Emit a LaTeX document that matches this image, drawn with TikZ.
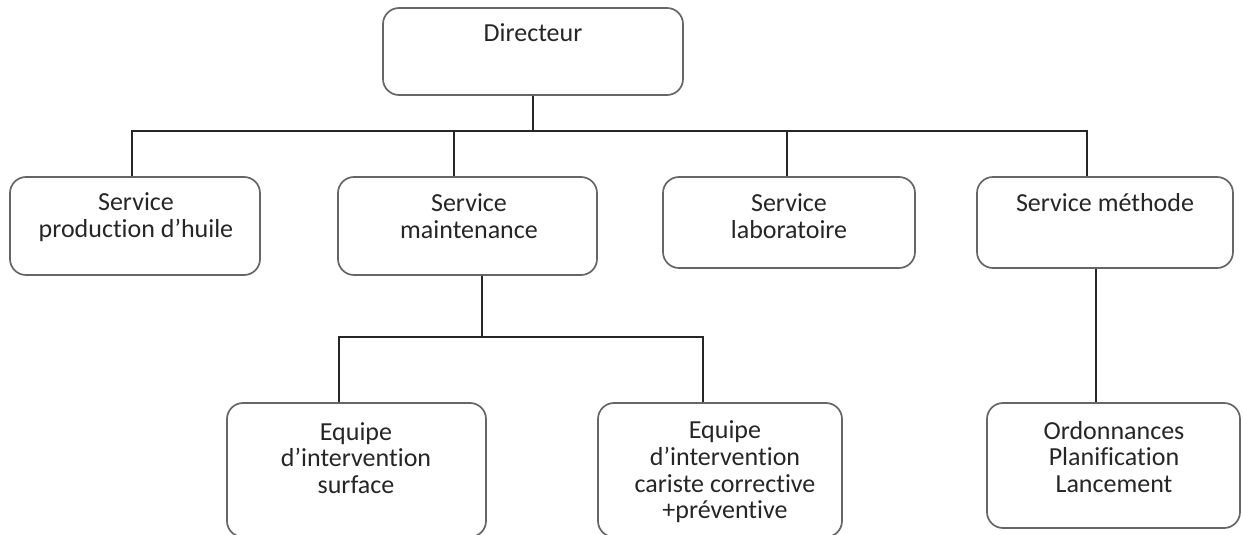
\documentclass[tikz,border=0pt]{standalone}
\usepackage{fontspec}
\setmainfont{Carlito}[Ligatures=NoCommon]
\begin{document}
\begin{tikzpicture}[x=0.5pt,y=-0.5pt,
  box/.style={draw=black!60, line width=0.85pt, rounded corners=8pt, fill=white, inner sep=0pt},
  txt/.style={align=center, font=\fontsize{13}{13.3}\selectfont, text=black!85, inner sep=0pt},
  conn/.style={line width=0.9pt, draw=black!85}]
\useasboundingbox (0,0) rectangle (1243,535);
% boxes
\node[box, minimum width=150pt, minimum height=43.5pt] (dir) at (533,51.5) {};
\node[box, minimum width=125pt, minimum height=49pt] (prod) at (135,226) {};
\node[box, minimum width=129.5pt, minimum height=49pt] (maint) at (467.5,226) {};
\node[box, minimum width=126pt, minimum height=45.5pt] (lab) at (789,222.5) {};
\node[box, minimum width=128pt, minimum height=45.5pt] (meth) at (1105,222.5) {};
\node[box, minimum width=129.5pt, minimum height=67pt] (surf) at (356.5,470) {};
\node[box, minimum width=122pt, minimum height=67pt] (car) at (720,470) {};
\node[box, minimum width=126.5pt, minimum height=62.5pt] (ord) at (1113.5,465.5) {};
% texts
\node[txt] (dirT) at (533,33) {Directeur};
\node[txt] (prodT) at (136,217) {Service\\production d’huile};
\node[txt] (maintT) at (469,216) {Service\\maintenance};
\node[txt] (labT) at (789,216) {Service\\laboratoire};
\node[txt] (methT) at (1105,203) {Service méthode};
\node[txt] (surfT) at (356,458) {Equipe\\d’intervention\\surface};
\node[txt] (carT) at (725,472) {Equipe\\d’intervention\\cariste corrective\\+préventive};
\node[txt] (ordT) at (1114,457) {Ordonnances\\Planification\\Lancement};
% junction coordinates
\coordinate (bus) at (533,131);
\coordinate (b1) at (132,131);
\coordinate (b2) at (454,131);
\coordinate (b3) at (787,131);
\coordinate (b4) at (1087,131);
\coordinate (m0) at (482,337);
\coordinate (m1) at (339,337);
\coordinate (m2) at (703,337);
% connectors
\draw[conn] (dir.south -| bus) -- (bus);
\draw[conn] (b1 |- prod.north) -- (b1) -- (b4) -- (b4 |- meth.north);
\draw[conn] (b2) -- (b2 |- maint.north);
\draw[conn] (b3) -- (b3 |- lab.north);
\draw[conn] (m0 |- maint.south) -- (m0);
\draw[conn] (m1 |- surf.north) -- (m1) -- (m2) -- (m2 |- car.north);
\draw[conn] (meth.south -| 1096,0) -- (ord.north -| 1096,0);
\end{tikzpicture}
\end{document}
